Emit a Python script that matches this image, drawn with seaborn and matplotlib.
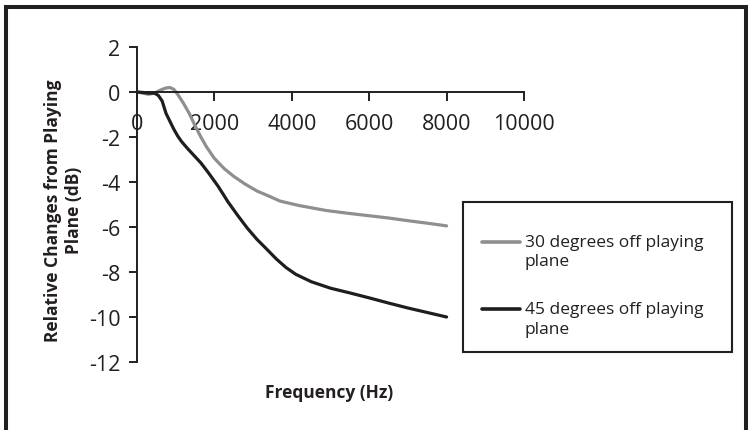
import pandas as pd
import matplotlib
matplotlib.use("Agg")
import matplotlib.pyplot as plt
from matplotlib.patches import Rectangle
import seaborn as sns

# values
freq_30 = [0, 150, 300, 450, 600, 750, 850, 950, 1050, 1200, 1350, 1500, 1650, 1800,
           2000, 2250, 2500, 2800, 3100, 3400, 3700, 4200, 4900, 5500, 6000, 6500,
           7000, 7500, 8000]
db_30 = [0, -0.05, -0.1, -0.05, 0.08, 0.18, 0.2, 0.12, -0.1, -0.5, -0.95, -1.5, -2.0, -2.45,
         -2.95, -3.4, -3.75, -4.1, -4.4, -4.62, -4.85, -5.05, -5.27, -5.4, -5.5, -5.6,
         -5.72, -5.83, -5.95]

freq_45 = [0, 150, 300, 450, 550, 650, 750, 850, 950, 1050, 1150, 1300, 1450, 1650, 1850,
           2100, 2350, 2600, 2850, 3100, 3350, 3600, 3850, 4100, 4500, 5000, 5500, 6000,
           6500, 7000, 7500, 8000]
db_45 = [0, -0.02, -0.05, -0.05, -0.15, -0.4, -0.95, -1.3, -1.65, -1.95, -2.2, -2.5, -2.78,
         -3.15, -3.6, -4.2, -4.88, -5.48, -6.05, -6.55, -6.98, -7.42, -7.8, -8.1, -8.43,
         -8.72, -8.93, -9.15, -9.38, -9.6, -9.8, -10.0]

series_names = ["30 degrees off playing\nplane", "45 degrees off playing\nplane"]
series_colors = ["#8f8f8f", "#1e1e1e"]
x_ticks = [0, 2000, 4000, 6000, 8000, 10000]
y_ticks = [-12, -10, -8, -6, -4, -2, 0, 2]

df = pd.concat([
    pd.DataFrame({"freq": freq_30, "db": db_30, "series": series_names[0]}),
    pd.DataFrame({"freq": freq_45, "db": db_45, "series": series_names[1]}),
])

sns.set_style("white")
plt.rcParams["font.family"] = ["Open Sans", "DejaVu Sans"]
text_col = "#231f20"

W, H = 748, 431
fig = plt.figure(figsize=(W / 100, H / 100), dpi=100)
ax = fig.add_axes([137 / W, (H - 363) / H, 387 / W, 315 / H])

sns.lineplot(data=df, x="freq", y="db", hue="series", sort=False,
             palette=dict(zip(series_names, series_colors)), linewidth=2.3,
             estimator=None, ax=ax)

ax.set_xlim(0, 10000)
ax.set_ylim(-12, 2)
ax.set_xticks(x_ticks)
ax.set_yticks(y_ticks)
ax.set_xticklabels([str(t) for t in x_ticks])
ax.set_yticklabels([str(t) for t in y_ticks])

for s in ["top", "right"]:
    ax.spines[s].set_visible(False)
ax.spines["bottom"].set_position(("data", 0))
for s in ["left", "bottom"]:
    ax.spines[s].set_color(text_col)
    ax.spines[s].set_linewidth(1.4)

ax.tick_params(axis="x", bottom=True, direction="out", length=6.5, width=1.4,
               colors=text_col, labelsize=15.5, pad=8.5)
ax.tick_params(axis="y", left=True, direction="out", length=6, width=1.4,
               colors=text_col, labelsize=15.5, pad=6)

ax.set_xlabel("Frequency (Hz)", fontsize=12.5, fontweight="bold", color=text_col)
ax.xaxis.set_label_coords(0.497, -0.095)
ax.xaxis.label.set_va("center")
ax.set_ylabel("Relative Changes from Playing\nPlane (dB)", fontsize=12.5,
              fontweight="bold", color=text_col, linespacing=1.2)
ax.yaxis.set_label_coords(-0.19, 0.483)
ax.yaxis.label.set_va("center")

handles, labels = ax.get_legend_handles_labels()
fs = 12.5
leg = ax.legend(handles, labels, loc="upper left",
                bbox_to_anchor=(482 / W, 1 - 235 / H), bbox_transform=fig.transFigure,
                borderaxespad=0, borderpad=0, fontsize=fs, frameon=False,
                handlelength=2.2, handletextpad=0.25, labelspacing=1.85)
for t in leg.get_texts():
    t.set_color(text_col)
    t.set_linespacing(1.28)
# handle sits next to the first text line in the reference
for ln in leg.get_lines():
    ln.set_linewidth(2.6)
    ln.set_ydata([y + 7.2 for y in ln.get_ydata()])

# legend box
fig.patches.append(Rectangle((463 / W, (H - 353) / H), 269 / W, 150 / H,
                             transform=fig.transFigure, fill=False,
                             linewidth=1.5, edgecolor=text_col))
# outer frame
fig.patches.append(Rectangle((5.5 / W, -0.1), 740 / W, (H - 8) / H + 0.1,
                             transform=fig.transFigure, fill=False,
                             linewidth=2.9, edgecolor=text_col))

fig.savefig("out.png", dpi=100)
